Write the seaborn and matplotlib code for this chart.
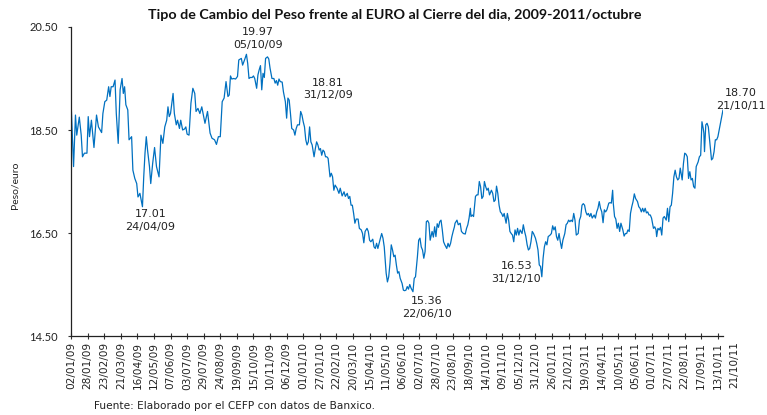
"""
Tipo de cambio peso/euro al cierre del dia, 2009 - octubre 2011 (CEFP / Banxico).
"""

import pandas as pd
import matplotlib
matplotlib.use("Agg")
import matplotlib.pyplot as plt
import seaborn as sns

START = pd.Timestamp("2009-01-02")
END = pd.Timestamp("2011-10-21")

# days elapsed since 02/01/09 and closing rate (pesos per euro)
day_offset = [
    0, 4, 7, 9, 13, 16, 18, 21, 25, 27, 29, 32, 36, 40, 43, 48, 50, 53, 56, 59,
    61, 63, 66, 69, 71, 74, 77, 80, 82, 84, 86, 89, 91, 95, 97, 100, 103, 105, 108, 112,
    114, 116, 118, 120, 123, 125, 128, 131, 134, 138, 141, 144, 147, 150, 152, 154, 156, 160, 162, 165,
    167, 170, 172, 175, 178, 180, 182, 185, 188, 191, 194, 196, 199, 202, 205, 208, 210, 214, 218, 221,
    225, 228, 231, 234, 237, 240, 243, 246, 248, 250, 252, 255, 258, 261, 263, 267, 269, 272, 275, 277,
    279, 281, 284, 286, 288, 291, 293, 295, 297, 299, 301, 303, 305, 308, 310, 312, 315, 318, 320, 322,
    324, 326, 328, 331, 333, 336, 338, 340, 342, 344, 346, 349, 351, 353, 355, 358, 360, 362, 364, 366,
    368, 370, 372, 374, 376, 378, 381, 383, 385, 387, 389, 391, 393, 395, 397, 399, 401, 403, 406, 408,
    410, 412, 414, 417, 420, 422, 425, 428, 430, 433, 435, 437, 439, 441, 443, 445, 447, 450, 452, 455,
    457, 459, 461, 464, 466, 468, 470, 473, 475, 477, 479, 481, 483, 485, 487, 489, 491, 494, 496, 498,
    500, 502, 504, 506, 508, 510, 512, 514, 516, 519, 521, 523, 525, 527, 529, 531, 533, 536, 538, 540,
    543, 545, 547, 549, 551, 553, 555, 557, 559, 561, 563, 566, 568, 570, 572, 574, 576, 578, 580, 582,
    584, 586, 589, 591, 593, 595, 597, 599, 601, 602, 605, 607, 610, 612, 615, 618, 620, 622, 624, 626,
    627, 629, 631, 634, 636, 638, 640, 642, 644, 646, 648, 650, 652, 654, 656, 659, 661, 663, 665, 667,
    669, 671, 673, 675, 677, 679, 682, 684, 686, 688, 690, 692, 694, 696, 698, 700, 702, 704, 707, 709,
    711, 713, 715, 717, 719, 721, 723, 725, 728, 730, 732, 734, 736, 738, 740, 742, 744, 746, 748, 751,
    753, 755, 757, 759, 761, 763, 765, 767, 769, 771, 774, 776, 778, 780, 782, 784, 786, 788, 790, 792,
    795, 797, 799, 801, 803, 805, 807, 809, 811, 813, 815, 817, 820, 822, 824, 826, 828, 830, 832, 834,
    836, 838, 840, 843, 845, 847, 849, 850, 852, 854, 856, 858, 860, 862, 865, 867, 869, 871, 873, 875,
    877, 879, 881, 883, 885, 888, 890, 892, 894, 896, 898, 900, 902, 904, 906, 908, 910, 913, 915, 917,
    918, 920, 922, 924, 926, 928, 930, 933, 935, 937, 939, 941, 943, 945, 947, 949, 951, 953, 955, 958,
    960, 962, 964, 966, 968, 970, 972, 974, 976, 978, 980, 983, 985, 987, 989, 991, 992, 993, 995, 997,
    999, 1001, 1004, 1006, 1008, 1010, 1012, 1014, 1018, 1022,
]
peso = [
    19.08, 17.79, 18.79, 18.40, 18.75, 18.40, 17.98, 18.05, 18.05, 18.76, 18.37, 18.69, 18.16, 18.79, 18.56, 18.45, 18.82, 19.05, 19.08, 19.34,
    19.15, 19.34, 19.34, 19.47, 18.82, 18.24, 19.28, 19.50, 19.21, 19.34, 18.99, 18.89, 18.31, 18.37, 17.72, 17.56, 17.46, 17.20, 17.27, 17.01,
    17.59, 18.05, 18.37, 18.11, 17.79, 17.46, 17.85, 18.16, 17.79, 17.59, 18.40, 18.24, 18.56, 18.69, 18.95, 18.76, 18.82, 19.21, 18.82, 18.60,
    18.69, 18.53, 18.69, 18.50, 18.52, 18.56, 18.42, 18.40, 19.02, 19.31, 19.21, 18.86, 18.92, 18.82, 18.95, 18.76, 18.63, 18.86, 18.44, 18.34,
    18.31, 18.22, 18.37, 18.37, 19.05, 19.12, 19.44, 19.15, 19.18, 19.55, 19.49, 19.50, 19.49, 19.54, 19.86, 19.89, 19.76, 19.86, 19.97, 19.79,
    19.50, 19.52, 19.52, 19.55, 19.50, 19.31, 19.57, 19.67, 19.75, 19.28, 19.60, 19.52, 19.89, 19.92, 19.88, 19.70, 19.50, 19.50, 19.41, 19.46,
    19.37, 19.49, 19.44, 19.43, 19.24, 19.05, 18.73, 19.12, 19.08, 18.82, 18.53, 18.50, 18.40, 18.53, 18.60, 18.60, 18.86, 18.79, 18.66, 18.56,
    18.31, 18.21, 18.27, 18.56, 18.27, 18.21, 17.98, 18.14, 18.27, 18.21, 18.11, 18.14, 18.01, 18.11, 18.08, 17.98, 17.98, 17.95, 17.59, 17.66,
    17.59, 17.33, 17.43, 17.37, 17.27, 17.37, 17.22, 17.30, 17.21, 17.27, 17.17, 17.21, 17.04, 17.04, 16.88, 16.69, 16.77, 16.77, 16.59, 16.56,
    16.49, 16.31, 16.53, 16.59, 16.53, 16.36, 16.33, 16.38, 16.23, 16.20, 16.30, 16.20, 16.30, 16.40, 16.49, 16.40, 16.23, 15.72, 15.55, 15.65,
    15.91, 16.27, 16.17, 16.04, 16.07, 15.88, 15.72, 15.75, 15.62, 15.52, 15.39, 15.38, 15.39, 15.46, 15.41, 15.50, 15.43, 15.36, 15.62, 15.65,
    16.04, 16.36, 16.40, 16.23, 16.17, 16.01, 16.14, 16.72, 16.74, 16.69, 16.36, 16.53, 16.42, 16.62, 16.43, 16.68, 16.61, 16.72, 16.75, 16.56,
    16.33, 16.27, 16.20, 16.30, 16.23, 16.30, 16.43, 16.53, 16.62, 16.69, 16.75, 16.66, 16.69, 16.53, 16.49, 16.48, 16.59, 16.66, 16.79, 16.98,
    16.82, 16.85, 16.82, 17.21, 17.24, 17.24, 17.50, 17.40, 17.17, 17.21, 17.50, 17.40, 17.33, 17.37, 17.24, 17.33, 17.27, 17.11, 17.14, 17.41,
    17.27, 17.04, 16.91, 16.88, 16.82, 16.88, 16.69, 16.88, 16.75, 16.53, 16.49, 16.46, 16.33, 16.56, 16.46, 16.59, 16.46, 16.56, 16.49, 16.66,
    16.53, 16.43, 16.27, 16.17, 16.20, 16.33, 16.53, 16.49, 16.40, 16.30, 16.17, 15.88, 15.85, 15.65, 16.01, 16.23, 16.33, 16.27, 16.43, 16.46,
    16.49, 16.64, 16.56, 16.62, 16.43, 16.36, 16.49, 16.33, 16.20, 16.36, 16.49, 16.66, 16.69, 16.75, 16.72, 16.75, 16.72, 16.88, 16.75, 16.46,
    16.49, 16.75, 16.82, 17.04, 17.07, 17.04, 16.91, 16.85, 16.88, 16.82, 16.88, 16.79, 16.85, 16.79, 16.91, 16.98, 17.11, 16.98, 16.91, 16.70,
    16.95, 16.91, 16.95, 17.08, 17.09, 17.08, 17.33, 17.08, 16.82, 16.77, 16.59, 16.69, 16.53, 16.69, 16.56, 16.44, 16.49, 16.49, 16.56, 16.53,
    16.88, 17.01, 17.11, 17.26, 17.17, 17.11, 17.01, 16.98, 16.91, 16.98, 16.91, 16.98, 16.89, 16.91, 16.85, 16.85, 16.79, 16.59, 16.62, 16.56,
    16.43, 16.59, 16.56, 16.61, 16.46, 16.79, 16.82, 16.75, 16.98, 16.72, 17.01, 17.04, 17.27, 17.59, 17.72, 17.59, 17.53, 17.56, 17.76, 17.53,
    17.85, 18.05, 18.03, 17.98, 17.56, 17.69, 17.53, 17.56, 17.40, 17.37, 17.79, 17.88, 17.98, 18.01, 18.66, 18.53, 18.44, 18.08, 18.60, 18.63,
    18.56, 18.31, 17.92, 17.95, 18.08, 18.31, 18.31, 18.37, 18.63, 18.89,
]

# labelled points: (date, value shown on the chart)
annot_dates = ["05/10/09", "31/12/09", "24/04/09", "22/06/10", "31/12/10", "21/10/11"]
annot_values = [19.97, 18.81, 17.01, 15.36, 16.53, 18.70]
annot_offsets = [(11, 16), (25, 25), (8, -14), (14, -16), (-19, -41), (18, 20)]

y_ticks = [14.5, 16.5, 18.5, 20.5]

BLUE = "#0070C0"

df = pd.DataFrame({
    "fecha": START + pd.to_timedelta(day_offset, unit="D"),
    "peso": peso,
})

sns.set_theme(style="ticks")
plt.rcParams["font.family"] = ["DejaVu Sans"]

fig = plt.figure(figsize=(7.67, 4.15), dpi=100)
ax = fig.add_axes([71 / 767, 1 - 336 / 415, 652 / 767, 309 / 415])

sns.lineplot(data=df, x="fecha", y="peso", ax=ax, color=BLUE, linewidth=0.9)

ax.set_xlim(START, END)
ax.set_ylim(14.5, 20.5)
ax.set_xlabel("")
ax.set_ylabel("")

# x axis: one label every 26 days, plus the closing date
tick_dates = pd.date_range(START, END, freq="26D")
ax.set_xticks(tick_dates)
ax.set_xticklabels([d.strftime("%d/%m/%y") for d in tick_dates], rotation=90,
                   fontsize=7.6, color="#222222")
ax.text(tick_dates[-1] + pd.Timedelta(days=26), -0.017, END.strftime("%d/%m/%y"),
        transform=ax.get_xaxis_transform(), rotation=90, ha="center", va="top",
        fontsize=7.6, color="#222222", clip_on=False)
ax.tick_params(axis="x", direction="inout", length=4, width=0.8, pad=2.5, color="#333333")

ax.set_yticks(y_ticks)
ax.set_yticklabels([f"{v:.2f}" for v in y_ticks], fontsize=8, family="Lato", color="#222222")
ax.tick_params(axis="y", direction="out", length=2.5, width=0.8, pad=7, color="#333333")

for side in ["top", "right"]:
    ax.spines[side].set_visible(False)
for side in ["left", "bottom"]:
    ax.spines[side].set_color("#222222")
    ax.spines[side].set_linewidth(0.9)

for d, v, off in zip(annot_dates, annot_values, annot_offsets):
    ax.annotate(f"{v:.2f}\n{d}", xy=(pd.to_datetime(d, format="%d/%m/%y"), v),
                xytext=off, textcoords="offset pixels", ha="center", va="center",
                multialignment="center", fontsize=8, linespacing=1.35,
                color="#222222", annotation_clip=False)

fig.text(395 / 767, 1 - 15 / 415,
         "Tipo de Cambio del Peso frente al EURO al Cierre del dia, 2009-2011/octubre",
         ha="center", va="center", fontsize=10.3, fontweight="bold", family="Lato", color="#111111")
fig.text(15 / 767, 1 - 185 / 415, "Peso/euro", rotation=90, ha="center", va="center",
         fontsize=7.5, family="Lato", color="#222222")
fig.text(94 / 767, 1 - 406 / 415, "Fuente: Elaborado por el CEFP con datos de Banxico.",
         ha="left", va="center", fontsize=7.6, color="#222222")

fig.savefig("out.png", dpi=100)
